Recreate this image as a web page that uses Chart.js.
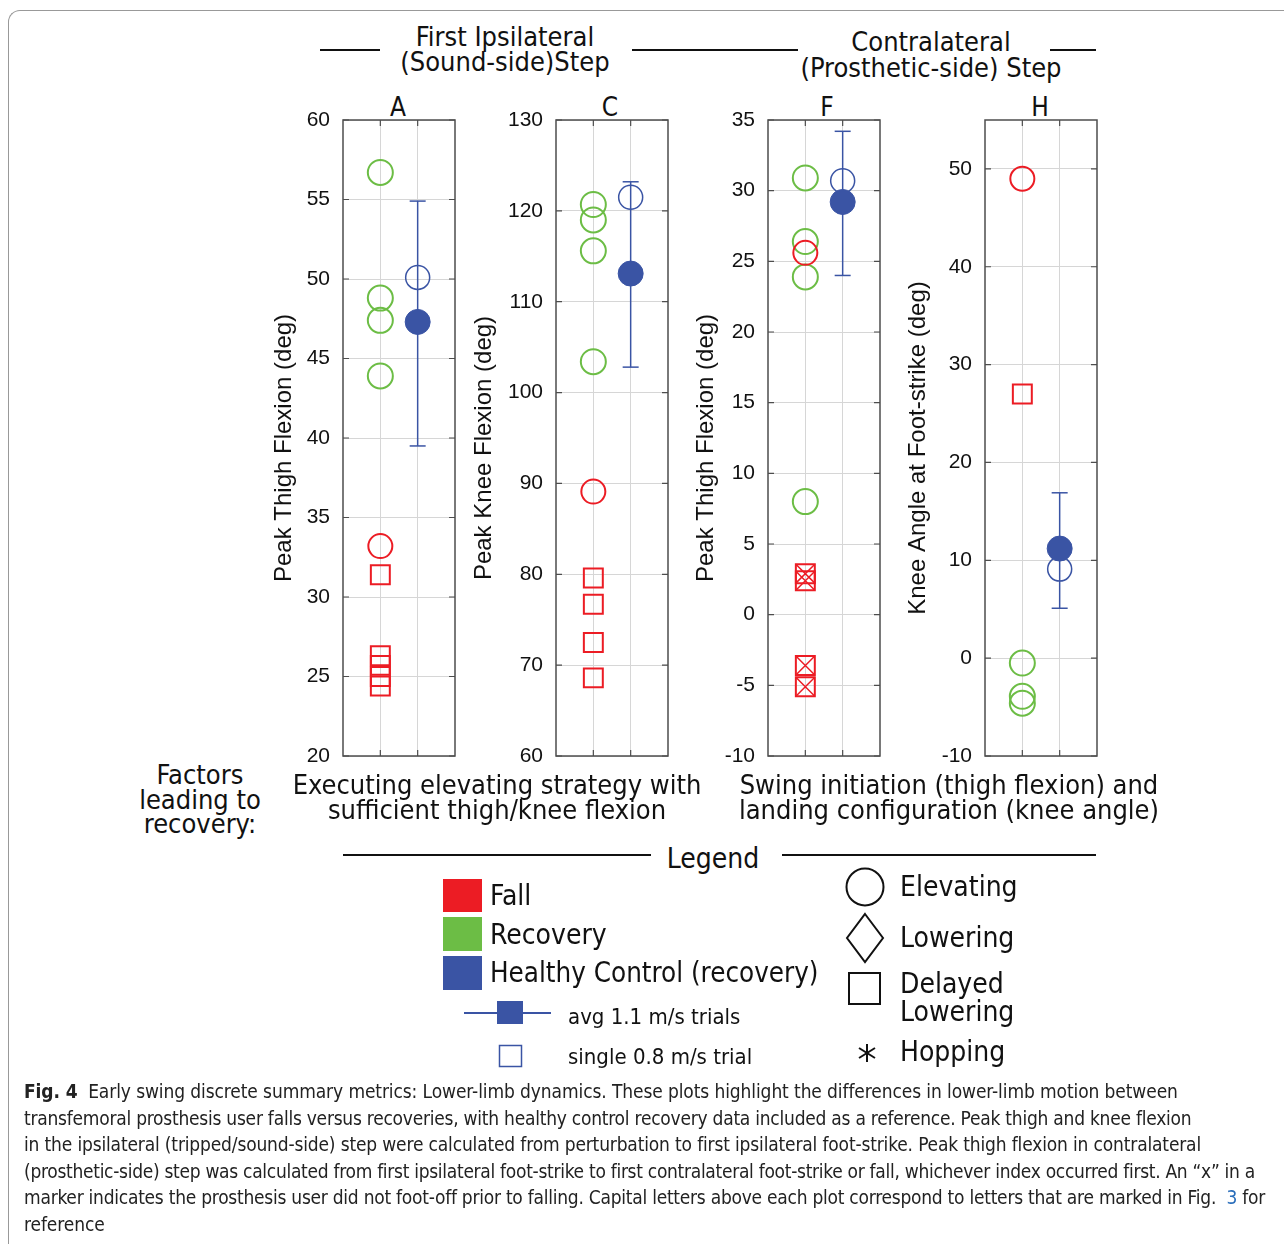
<!DOCTYPE html>
<html>
<head>
<meta charset="utf-8">
<script src="https://cdn.jsdelivr.net/npm/chart.js@4.4.0/dist/chart.umd.min.js"></script>
<style>
body { margin: 0; background: #fff; }
#page { position: relative; width: 1284px; height: 1244px; overflow: hidden;
  font-family: 'Liberation Sans Narrow', 'DejaVu Sans Condensed', sans-serif; color: #111; }
.card { position: absolute; left: 8px; top: 10px; width: 1320px; height: 1300px;
  border-left: 1.5px solid #999; border-top: 1.5px solid #999; border-top-left-radius: 12px; }
.t { position: absolute; white-space: nowrap; }
.c { transform: translateX(-50%); text-align: center; }
.hl { position: absolute; height: 2px; background: #111; }
canvas { position: absolute; }
#cap { position: absolute; left: 24px; top: 1078px; font-size: 19px; line-height: 26.6px; white-space: nowrap; color: #222; }
#cap div { height: 26.6px; }
#cap b { font-weight: bold; }
#cap .ref { color: #2a6ebb; }
</style>
</head>
<body>
<div id="page">
  <div class="card"></div>

  <!-- header -->
  <div class="hl" style="left:320px;top:49px;width:60px"></div>
  <div class="hl" style="left:632px;top:49px;width:166px"></div>
  <div class="hl" style="left:1050px;top:49px;width:46px"></div>
  <div class="t c" style="left:505px;top:24px;font-size:27px;line-height:25px">First Ipsilateral<br>(Sound-side)Step</div>
  <div class="t c" style="left:931px;top:29px;font-size:27px;line-height:26px">Contralateral<br>(Prosthetic-side) Step</div>

  <div class="t c" style="left:398px;top:93px;font-size:26px;line-height:28px">A</div>
  <div class="t c" style="left:610px;top:93px;font-size:26px;line-height:28px">C</div>
  <div class="t c" style="left:827px;top:93px;font-size:26px;line-height:28px">F</div>
  <div class="t c" style="left:1040px;top:93px;font-size:26px;line-height:28px">H</div>

  <canvas id="chartA"></canvas>
  <canvas id="chartC"></canvas>
  <canvas id="chartF"></canvas>
  <canvas id="chartH"></canvas>

  <!-- factors -->
  <div class="t c" style="left:200px;top:763px;font-size:27px;line-height:24.5px">Factors<br>leading to<br>recovery:</div>
  <div class="t c" style="left:497px;top:772px;font-size:27px;line-height:25px">Executing elevating strategy with<br>sufficient thigh/knee flexion</div>
  <div class="t c" style="left:949px;top:772px;font-size:27px;line-height:25px">Swing initiation (thigh flexion) and<br>landing configuration (knee angle)</div>

  <!-- legend -->
  <div class="hl" style="left:343px;top:854px;width:308px"></div>
  <div class="hl" style="left:782px;top:854px;width:314px"></div>
  <div class="t c" style="left:713px;top:844px;font-size:28px;line-height:30px">Legend</div>

  <svg style="position:absolute;left:0;top:0" width="1284" height="1244">
    <rect x="443" y="879" width="39" height="33" fill="#ec1c24"/>
    <rect x="443" y="917" width="39" height="34" fill="#6cbd45"/>
    <rect x="443" y="956" width="39" height="34" fill="#3a54a4"/>
    <line x1="464" y1="1013" x2="551" y2="1013" stroke="#3a54a4" stroke-width="2"/>
    <rect x="497" y="1001" width="26" height="23" fill="#3a54a4"/>
    <rect x="499.5" y="1045.5" width="22" height="21" fill="none" stroke="#3a54a4" stroke-width="1.5"/>
    <circle cx="865" cy="887" r="18.5" fill="none" stroke="#111" stroke-width="2"/>
    <polygon points="865,914 883,938 865,962 847,938" fill="none" stroke="#111" stroke-width="2"/>
    <rect x="849" y="973" width="31" height="31" fill="none" stroke="#111" stroke-width="2"/>
    <g stroke="#111" stroke-width="2">
      <line x1="867" y1="1044" x2="867" y2="1062"/>
      <line x1="859" y1="1048" x2="875" y2="1058"/>
      <line x1="859" y1="1058" x2="875" y2="1048"/>
    </g>
  </svg>
  <div class="t" style="left:490px;top:880px;font-size:28px;line-height:32px">Fall</div>
  <div class="t" style="left:490px;top:919px;font-size:28px;line-height:32px">Recovery</div>
  <div class="t" style="left:490px;top:956px;font-size:27.5px;line-height:32px">Healthy Control (recovery)</div>
  <div class="t" style="left:568px;top:1004px;font-size:22px;line-height:26px">avg 1.1 m/s trials</div>
  <div class="t" style="left:568px;top:1044px;font-size:22px;line-height:26px">single 0.8 m/s trial</div>
  <div class="t" style="left:900px;top:871px;font-size:28px;line-height:32px">Elevating</div>
  <div class="t" style="left:900px;top:922px;font-size:28px;line-height:32px">Lowering</div>
  <div class="t" style="left:900px;top:970px;font-size:28px;line-height:28px">Delayed<br>Lowering</div>
  <div class="t" style="left:900px;top:1036px;font-size:28px;line-height:32px">Hopping</div>

  <div id="cap">
    <div style="letter-spacing:-0.1px"><b>Fig. 4</b>&nbsp; Early swing discrete summary metrics: Lower-limb dynamics. These plots highlight the differences in lower-limb motion between</div>
    <div style="letter-spacing:-0.24px">transfemoral prosthesis user falls versus recoveries, with healthy control recovery data included as a reference. Peak thigh and knee flexion</div>
    <div style="letter-spacing:-0.16px">in the ipsilateral (tripped/sound-side) step were calculated from perturbation to first ipsilateral foot-strike. Peak thigh flexion in contralateral</div>
    <div style="letter-spacing:-0.29px">(prosthetic-side) step was calculated from first ipsilateral foot-strike to first contralateral foot-strike or fall, whichever index occurred first. An “x” in a</div>
    <div style="letter-spacing:-0.25px">marker indicates the prosthesis user did not foot-off prior to falling. Capital letters above each plot correspond to letters that are marked in Fig.&nbsp; <span class="ref">3</span> for</div>
    <div style="letter-spacing:-0.1px">reference</div>
  </div>
</div>

<script>
// colours
var RED = '#ec1c24', GREEN = '#6cbd45', BLUE = '#3a54a4';

// category positions: 1 = prosthesis user (fall / recovery), 2 = healthy control
var groupX = [1, 2];

// A - peak thigh flexion, first ipsilateral step
var aFallElev = [33.2];
var aFallDelayed = [31.4, 26.3, 25.7, 25.0, 24.4];
var aRecElev = [56.7, 48.8, 47.4, 43.9];
var aHcAvg = [47.3];
var aHcRange = [39.5, 54.9];
var aHcSingle = [50.1];
var aTicks = [20, 25, 30, 35, 40, 45, 50, 55, 60];

// C - peak knee flexion, first ipsilateral step
var cFallElev = [89.1];
var cFallDelayed = [79.6, 76.7, 72.5, 68.6];
var cRecElev = [120.7, 119.0, 115.6, 103.4];
var cHcAvg = [113.1];
var cHcRange = [102.8, 123.2];
var cHcSingle = [121.5];
var cTicks = [60, 70, 80, 90, 100, 110, 120, 130];

// F - peak thigh flexion, contralateral step
var fFallElev = [25.6];
var fFallNoFootOff = [2.9, 2.4, -3.6, -5.1];
var fRecElev = [30.9, 26.4, 23.9, 8.0];
var fHcAvg = [29.2];
var fHcRange = [24.0, 34.2];
var fHcSingle = [30.7];
var fTicks = [-10, -5, 0, 5, 10, 15, 20, 25, 30, 35];

// H - knee angle at foot-strike
var hFallElev = [49.0];
var hFallDelayed = [27.0];
var hRecElev = [-0.5, -3.9, -4.6];
var hHcAvg = [11.2];
var hHcRange = [5.1, 16.9];
var hHcSingle = [9.1];
var hTicks = [-10, 0, 10, 20, 30, 40, 50];

var PLOT_W = 112, PLOT_H = 636, PLOT_TOP = 120;

function pts(x, ys) {
    return ys.map(function (y) { return { x: x, y: y }; });
}

function markers(ys, x, style, color, radius, width, order, fill) {
    return {
        data: pts(x, ys),
        pointStyle: style,
        pointRadius: radius,
        pointHoverRadius: radius,
        pointBorderWidth: width,
        pointBorderColor: color,
        pointBackgroundColor: fill || 'rgba(0,0,0,0)',
        borderColor: color,
        showLine: false,
        order: order
    };
}

// draws the axes box and the small inside tick marks
var boxPlugin = {
    id: 'box',
    beforeDatasetsDraw: function (chart) {
        var ctx = chart.ctx, a = chart.chartArea;
        var xs = chart.scales.x, ys = chart.scales.y;
        ctx.save();
        ctx.strokeStyle = '#4d4d4d';
        ctx.lineWidth = 1.2;
        ctx.beginPath();
        ys.ticks.forEach(function (t) {
            var py = ys.getPixelForValue(t.value);
            ctx.moveTo(a.left, py); ctx.lineTo(a.left + 6, py);
            ctx.moveTo(a.right, py); ctx.lineTo(a.right - 6, py);
        });
        xs.ticks.forEach(function (t) {
            var px = xs.getPixelForValue(t.value);
            ctx.moveTo(px, a.bottom); ctx.lineTo(px, a.bottom - 6);
            ctx.moveTo(px, a.top); ctx.lineTo(px, a.top + 6);
        });
        ctx.stroke();
        ctx.lineWidth = 1.5;
        ctx.strokeRect(a.left, a.top, a.right - a.left, a.bottom - a.top);
        ctx.restore();
    }
};

function makePanel(id, plotLeft, axisW, yMin, yMax, ticks, title, sets) {
    var cv = document.getElementById(id);
    var w = axisW + PLOT_W + 16, h = PLOT_H + 60;
    cv.width = w; cv.height = h;
    cv.style.width = w + 'px'; cv.style.height = h + 'px';

    var datasets = [];
    if (sets.fallElev) datasets.push(markers(sets.fallElev, groupX[0], 'circle', RED, 12, 2, 4));
    if (sets.fallDelayed) datasets.push(markers(sets.fallDelayed, groupX[0], 'rect', RED, 13.4, 2, 4));
    if (sets.fallNoFootOff) {
        datasets.push(markers(sets.fallNoFootOff, groupX[0], 'rect', RED, 13.4, 2, 4));
        datasets.push(markers(sets.fallNoFootOff, groupX[0], 'crossRot', RED, 13.4, 1.5, 4));
    }
    datasets.push(markers(sets.recElev, groupX[0], 'circle', GREEN, 12.5, 2, 5));
    datasets.push({
        data: pts(groupX[1], sets.hcRange),
        showLine: true,
        borderColor: BLUE,
        borderWidth: 1.5,
        pointStyle: 'line',
        pointRadius: 8,
        pointHoverRadius: 8,
        pointBorderWidth: 1.5,
        pointBorderColor: BLUE,
        order: 3
    });
    datasets.push(markers(sets.hcSingle, groupX[1], 'circle', BLUE, 12, 1.5, 2));
    datasets.push(markers(sets.hcAvg, groupX[1], 'circle', BLUE, 12.5, 1, 1, BLUE));

    var chart = new Chart(cv, {
        type: 'scatter',
        data: { datasets: datasets },
        options: {
            responsive: false,
            maintainAspectRatio: false,
            animation: false,
            events: [],
            layout: { padding: { top: 30, right: 8, bottom: 30, left: 0 } },
            plugins: { legend: { display: false }, tooltip: { enabled: false } },
            scales: {
                x: {
                    type: 'linear', min: 0, max: 3,
                    afterBuildTicks: function (s) { s.ticks = groupX.map(function (v) { return { value: v }; }); },
                    afterFit: function (s) { s.height = 0; },
                    ticks: { display: false },
                    grid: { color: '#d6d6d6', lineWidth: 1, drawTicks: false },
                    border: { display: false }
                },
                y: {
                    type: 'linear', min: yMin, max: yMax,
                    afterBuildTicks: function (s) { s.ticks = ticks.map(function (v) { return { value: v }; }); },
                    afterFit: function (s) { s.width = axisW; },
                    ticks: {
                        color: '#111', padding: 13,
                        font: { family: "'Liberation Sans', Arial, sans-serif", size: 21 }
                    },
                    grid: { color: '#d6d6d6', lineWidth: 1, drawTicks: false },
                    border: { display: false },
                    title: {
                        // trailing spaces nudge the centred title a little down, as in the original
                        display: true, text: title + '\u00a0\u00a0\u00a0', color: '#111',
                        padding: { top: 0, bottom: 0 },
                        font: { family: "'Liberation Sans', Arial, sans-serif", size: 24 }
                    }
                }
            }
        },
        plugins: [boxPlugin]
    });

    // make the plot area exactly PLOT_W x PLOT_H, then place the canvas
    var a = chart.chartArea;
    var dw = PLOT_W - (a.right - a.left), dh = PLOT_H - (a.bottom - a.top);
    if (Math.abs(dw) > 0.5 || Math.abs(dh) > 0.5) {
        chart.resize(w + dw, h + dh);
        a = chart.chartArea;
    }
    cv.style.left = (plotLeft - a.left) + 'px';
    cv.style.top = (PLOT_TOP - a.top) + 'px';
}

makePanel('chartA', 343, 73, 20, 60, aTicks, 'Peak Thigh Flexion (deg)', {
    fallElev: aFallElev, fallDelayed: aFallDelayed, recElev: aRecElev,
    hcAvg: aHcAvg, hcRange: aHcRange, hcSingle: aHcSingle
});
makePanel('chartC', 556, 86, 60, 130, cTicks, 'Peak Knee Flexion (deg)', {
    fallElev: cFallElev, fallDelayed: cFallDelayed, recElev: cRecElev,
    hcAvg: cHcAvg, hcRange: cHcRange, hcSingle: cHcSingle
});
makePanel('chartF', 768, 76, -10, 35, fTicks, 'Peak Thigh Flexion (deg)', {
    fallElev: fFallElev, fallNoFootOff: fFallNoFootOff, recElev: fRecElev,
    hcAvg: fHcAvg, hcRange: fHcRange, hcSingle: fHcSingle
});
makePanel('chartH', 985, 81, -10, 55, hTicks, 'Knee Angle at Foot-strike (deg)', {
    fallElev: hFallElev, fallDelayed: hFallDelayed, recElev: hRecElev,
    hcAvg: hHcAvg, hcRange: hHcRange, hcSingle: hHcSingle
});
</script>
</body>
</html>
